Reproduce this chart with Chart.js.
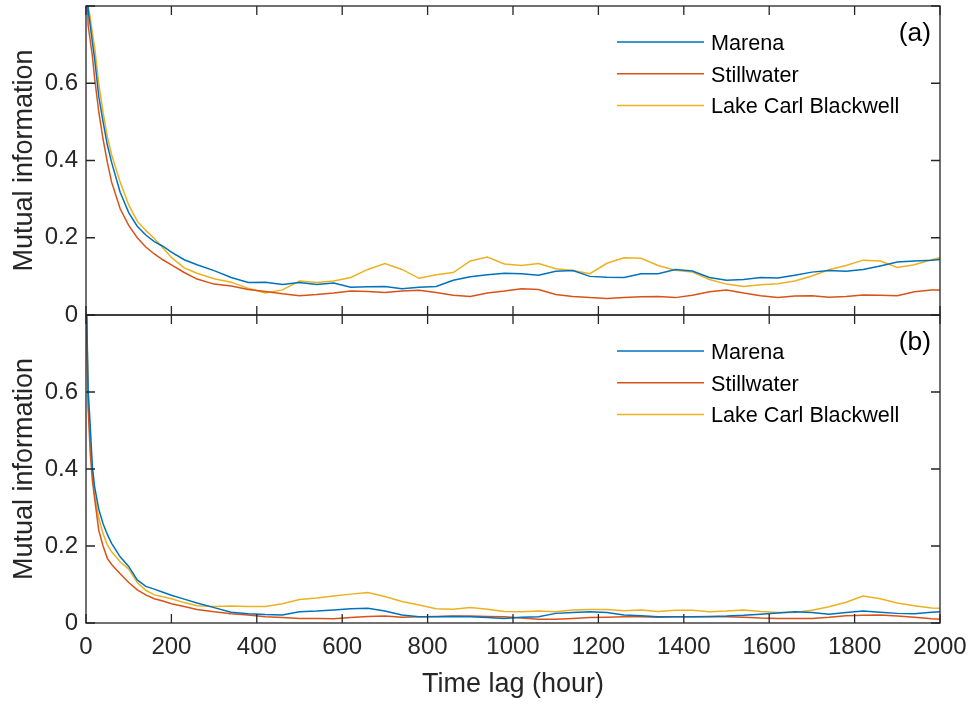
<!DOCTYPE html>
<html>
<head>
<meta charset="utf-8">
<script src="https://cdn.jsdelivr.net/npm/chart.js@4.4.0/dist/chart.umd.min.js"></script>
<style>
  body { margin: 0; background: #fff; }
  #wrap { position: relative; width: 972px; height: 704px; }
  canvas { position: absolute; left: 0; }
  #top { top: 0; }
  #bot { top: 300px; }
</style>
</head>
<body>
<div id="wrap">
  <canvas id="top" width="972" height="340"></canvas>
  <canvas id="bot" width="972" height="404"></canvas>
</div>
<script>
// time lag (hour)
const lags = [0,5,10,15,20,30,40,50,60,80,100,120,140,160,180,200,230,260,
  300,340,380,420,460,500,540,580,620,660,700,740,780,820,860,900,940,980,1020,1060,
  1100,1140,1180,1220,1260,1300,1340,1380,1420,1460,1500,1540,1580,1620,1660,1700,
  1740,1780,1820,1860,1900,1940,1980,2000];

const sites = ["Marena", "Stillwater", "Lake Carl Blackwell"];
const colors = ["#0072BD", "#D95319", "#EDB120"];

// panel (a)
const aMarena = [1.0,0.79,0.75,0.705,0.665,0.565,0.5,0.44,0.395,0.318,0.265,0.23,0.207,0.19,0.178,0.163,0.143,0.13,
  0.115,0.097,0.084,0.085,0.079,0.084,0.079,0.083,0.072,0.073,0.074,0.068,0.072,0.074,0.09,0.099,0.104,0.108,0.107,0.103,
  0.113,0.115,0.100,0.098,0.097,0.107,0.107,0.118,0.114,0.097,0.090,0.092,0.097,0.096,0.103,0.111,
  0.115,0.113,0.118,0.127,0.137,0.140,0.142,0.144];
const aStillwater = [0.95,0.75,0.71,0.67,0.615,0.525,0.455,0.395,0.344,0.275,0.232,0.2,0.176,0.158,0.143,0.13,0.11,0.093,
  0.08,0.075,0.066,0.061,0.055,0.050,0.053,0.057,0.062,0.061,0.058,0.062,0.064,0.058,0.051,0.048,0.057,0.062,0.068,0.066,
  0.053,0.048,0.045,0.043,0.045,0.047,0.048,0.045,0.051,0.060,0.065,0.057,0.050,0.045,0.049,0.050,
  0.046,0.048,0.052,0.051,0.050,0.060,0.065,0.065];
const aLake = [1.0,0.8,0.77,0.73,0.695,0.598,0.525,0.462,0.415,0.344,0.285,0.243,0.219,0.198,0.174,0.149,0.122,0.108,
  0.094,0.085,0.069,0.057,0.065,0.088,0.084,0.088,0.097,0.118,0.133,0.118,0.095,0.104,0.11,0.14,0.15,0.132,0.128,0.133,
  0.12,0.115,0.107,0.134,0.148,0.147,0.128,0.116,0.111,0.092,0.080,0.074,0.078,0.081,0.088,0.101,
  0.117,0.128,0.142,0.14,0.123,0.13,0.143,0.148];

// panel (b)
const bMarena = [0.9,0.605,0.51,0.405,0.355,0.295,0.258,0.23,0.207,0.172,0.147,0.112,0.095,0.088,0.08,0.072,0.062,0.052,
  0.04,0.028,0.024,0.022,0.021,0.029,0.031,0.034,0.037,0.038,0.031,0.021,0.016,0.016,0.017,0.016,0.014,0.012,0.015,0.016,
  0.025,0.027,0.029,0.027,0.021,0.019,0.016,0.016,0.016,0.017,0.018,0.02,0.023,0.026,0.029,0.027,
  0.023,0.027,0.031,0.028,0.025,0.024,0.028,0.029];
const bStillwater = [0.9,0.56,0.44,0.37,0.325,0.24,0.2,0.168,0.152,0.128,0.105,0.086,0.073,0.063,0.057,0.05,0.043,0.035,
  0.029,0.024,0.021,0.016,0.014,0.012,0.012,0.011,0.014,0.017,0.018,0.015,0.016,0.017,0.018,0.018,0.017,0.016,0.013,0.010,
  0.010,0.012,0.014,0.015,0.016,0.016,0.015,0.016,0.016,0.016,0.016,0.015,0.013,0.012,0.012,0.012,
  0.015,0.019,0.020,0.021,0.018,0.015,0.011,0.010];
const bLake = [0.9,0.58,0.47,0.39,0.335,0.272,0.232,0.203,0.185,0.159,0.14,0.105,0.085,0.073,0.068,0.063,0.053,0.045,
  0.043,0.044,0.043,0.043,0.05,0.061,0.065,0.07,0.075,0.079,0.069,0.056,0.047,0.037,0.036,0.04,0.036,0.03,0.029,0.031,
  0.029,0.034,0.035,0.035,0.032,0.034,0.03,0.033,0.033,0.029,0.031,0.034,0.03,0.027,0.027,0.033,
  0.042,0.054,0.07,0.063,0.052,0.045,0.039,0.038];

const xTicks = [0,200,400,600,800,1000,1200,1400,1600,1800,2000];
const yTicks = [0,0.2,0.4,0.6,0.8];

const FONT = "'Liberation Sans', Arial, Helvetica, sans-serif";
const INK = "#262626";

// box with inward ticks, legend and panel tag, MATLAB style
const boxPlugin = {
  id: "box",
  afterDraw(chart, args, opts) {
    const {ctx, chartArea: a, scales: {x, y}} = chart;
    ctx.save();
    ctx.strokeStyle = INK;
    ctx.lineWidth = 1.3;
    ctx.strokeRect(a.left, a.top, a.width, a.height);
    ctx.beginPath();
    xTicks.forEach(v => {
      const px = x.getPixelForValue(v);
      ctx.moveTo(px, a.bottom); ctx.lineTo(px, a.bottom - 9);
      ctx.moveTo(px, a.top); ctx.lineTo(px, a.top + 9);
    });
    yTicks.forEach(v => {
      const py = y.getPixelForValue(v);
      ctx.moveTo(a.left, py); ctx.lineTo(a.left + 9, py);
      ctx.moveTo(a.right, py); ctx.lineTo(a.right - 9, py);
    });
    ctx.stroke();

    // legend
    ctx.font = "21.6px " + FONT;
    ctx.textAlign = "left";
    ctx.textBaseline = "alphabetic";
    chart.data.datasets.forEach((ds, i) => {
      const ly = a.top + 36 + i * 31.7;
      ctx.strokeStyle = ds.borderColor;
      ctx.lineWidth = 1.5;
      ctx.beginPath();
      ctx.moveTo(a.right - 323, ly);
      ctx.lineTo(a.right - 236, ly);
      ctx.stroke();
      ctx.fillStyle = "#000";
      ctx.fillText(ds.label, a.right - 229, ly + 8);
    });

    // panel tag
    ctx.font = "26.4px " + FONT;
    ctx.textAlign = "right";
    ctx.fillStyle = "#000";
    ctx.fillText(opts.tag, a.right - 9, a.top + 34.5);
    ctx.restore();
  }
};

function makePanel(id, series, tag, showX) {
  const datasets = series.map((vals, i) => ({
    label: sites[i],
    data: lags.map((l, j) => ({x: l, y: vals[j]})),
    borderColor: colors[i],
    borderWidth: 1.5,
    pointRadius: 0,
    tension: 0,
    fill: false
  }));
  return new Chart(document.getElementById(id), {
    type: "line",
    data: {datasets},
    plugins: [boxPlugin],
    options: {
      responsive: false,
      animation: false,
      devicePixelRatio: 1,
      layout: {padding: showX ? {top: 15, right: 32, bottom: 0, left: 0}
                               : {top: 6, right: 32, bottom: 25, left: 0}},
      plugins: {
        legend: {display: false},
        tooltip: {enabled: false},
        box: {tag}
      },
      scales: {
        x: {
          type: "linear",
          min: 0, max: 2000,
          display: showX,
          grid: {display: false, drawTicks: false},
          border: {display: false},
          ticks: {
            stepSize: 200, autoSkip: false, maxRotation: 0, padding: 10,
            color: INK, font: {family: FONT, size: 24},
            callback: v => String(v)
          },
          title: {
            display: true, text: "Time lag (hour)", color: INK,
            font: {family: FONT, size: 27}, padding: {top: 0, bottom: 3}
          },
          afterFit(s) {
            s.height = showX ? 81 : 0;
            s.paddingLeft = 0; s.paddingRight = 0;
          }
        },
        y: {
          type: "linear",
          min: 0, max: 0.8,
          grid: {display: false, drawTicks: false},
          border: {display: false},
          ticks: {
            stepSize: 0.2, padding: 8, color: INK, font: {family: FONT, size: 24},
            callback: v => v > 0.75 ? "" : String(Math.round(v * 10) / 10)
          },
          title: {
            display: true, text: "Mutual information", color: INK,
            font: {family: FONT, size: 27}, padding: {top: 8, bottom: 0}
          },
          afterFit(s) {
            s.width = 86;
            s.paddingTop = 0; s.paddingBottom = 0;
          }
        }
      }
    }
  });
}

makePanel("top", [aMarena, aStillwater, aLake], "(a)", false);
makePanel("bot", [bMarena, bStillwater, bLake], "(b)", true);
</script>
</body>
</html>
